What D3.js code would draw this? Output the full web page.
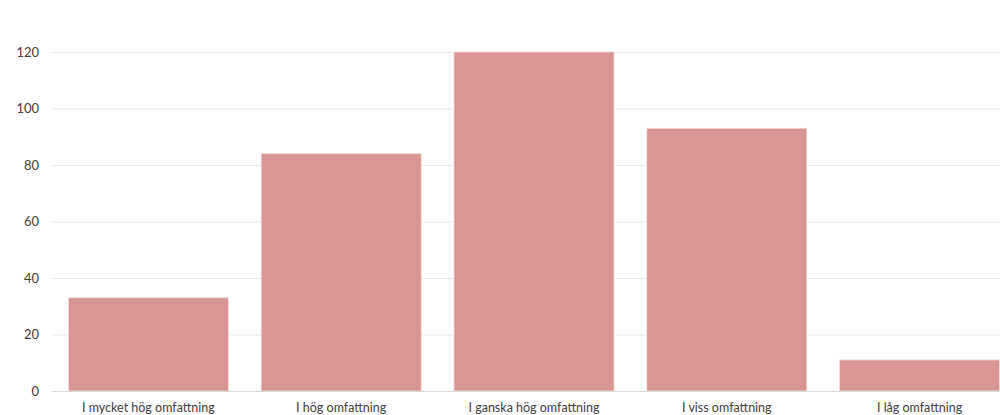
<!DOCTYPE html>
<html>
<head>
<meta charset="utf-8">
<script src="https://cdn.jsdelivr.net/npm/d3@7"></script>
<style>
  body { margin: 0; background: #fff; overflow: hidden; }
  text { font-family: Lato, "Open Sans", sans-serif; fill: #404040; }
</style>
</head>
<body>
<div id="chart"></div>
<script>
var categories = ['I mycket hög omfattning', 'I hög omfattning', 'I ganska hög omfattning', 'I viss omfattning', 'I låg omfattning']
var values = [33, 84, 120, 93, 11]
var yTicks = [0, 20, 40, 60, 80, 100, 120]

var width = 1000, height = 415
var margin = {top: 52, left: 52, bottom: 24}

var svg = d3.select('#chart').append('svg')
  .attr('width', width)
  .attr('height', height)

var y = d3.scaleLinear()
  .domain([0, 120])
  .range([height - margin.bottom, margin.top])

// band runs past the right edge, the last bar gets cut off like in the original
var x = d3.scaleBand()
  .domain(categories)
  .range([margin.left, margin.left + 5*192.8])
  .paddingInner(0.17)
  .paddingOuter(0.085)

// gridlines
svg.append('g')
  .selectAll('line')
  .data(yTicks.filter(d => d > 0))
  .join('line')
  .attr('x1', margin.left)
  .attr('x2', width)
  .attr('y1', d => y(d) + 0.5)
  .attr('y2', d => y(d) + 0.5)
  .attr('stroke', '#d4d4d4')
  .attr('stroke-width', 1)
  .attr('stroke-dasharray', '1,1')

// bars
svg.append('g')
  .selectAll('rect')
  .data(values)
  .join('rect')
  .attr('x', (d, i) => x(categories[i]))
  .attr('y', d => y(d))
  .attr('width', x.bandwidth())
  .attr('height', d => y(0) - y(d))
  .attr('fill', '#d99594')
  .attr('stroke', '#f2dcdb')
  .attr('stroke-width', 0.8)

// baseline
svg.append('line')
  .attr('x1', margin.left)
  .attr('x2', width)
  .attr('y1', y(0) + 0.5)
  .attr('y2', y(0) + 0.5)
  .attr('stroke', '#d9d9d9')

// y labels
svg.append('g')
  .selectAll('text')
  .data(yTicks)
  .join('text')
  .attr('x', 39)
  .attr('y', d => y(d))
  .attr('dy', '0.35em')
  .attr('text-anchor', 'end')
  .attr('font-size', 13)
  .text(d => d)

// x labels
svg.append('g')
  .selectAll('text')
  .data(categories)
  .join('text')
  .attr('x', d => x(d) + x.bandwidth()/2)
  .attr('y', y(0) + 17)
  .attr('dy', '0.35em')
  .attr('text-anchor', 'middle')
  .attr('font-size', 12.5)
  .text(d => d)
</script>
</body>
</html>
